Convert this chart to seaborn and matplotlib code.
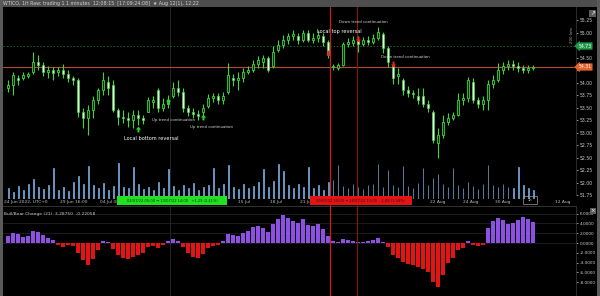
import matplotlib
matplotlib.use("Agg")
import matplotlib.pyplot as plt
import matplotlib.transforms as mtransforms
from matplotlib.patches import Rectangle
import numpy as np
import pandas as pd
import seaborn as sns

# ---------------- data ----------------
opens = [53.89, 53.95, 54.09, 54.09, 54.13, 54.21, 54.41, 54.35, 54.21, 54.25,
         54.21, 54.25, 54.17, 54.09, 54.05, 53.41, 53.29, 53.45, 53.65, 53.85,
         54.01, 53.95, 53.45, 53.31, 53.29, 53.25, 53.35, 53.29, 53.41, 53.61,
         53.85, 53.49, 53.57, 53.73, 53.89, 53.81, 53.49, 53.41, 53.37, 53.41,
         53.53, 53.69, 53.73, 53.65, 53.81, 54.09, 54.05, 54.09, 54.21, 54.25,
         54.37, 54.41, 54.49, 54.33, 54.65, 54.75, 54.85, 54.93, 54.93, 54.85,
         54.99, 54.85, 54.89, 54.93, 54.81, 54.31, 54.29, 54.35, 54.77, 54.79,
         54.85, 54.77, 54.85, 54.81, 54.89, 54.97, 54.69, 54.33, 54.13, 54.05,
         53.85, 53.79, 53.73, 53.73, 53.57, 53.41, 52.79, 52.95, 53.21, 53.29,
         53.35, 53.65, 53.69, 54.01, 53.65, 53.57, 53.65, 53.97, 54.05, 54.25,
         54.33, 54.37, 54.33, 54.29, 54.25, 54.29]
highs = [54.05, 54.21, 54.15, 54.21, 54.21, 54.61, 54.55, 54.41, 54.33, 54.31,
         54.31, 54.37, 54.25, 54.13, 54.09, 53.49, 53.55, 53.73, 53.89, 54.21,
         54.13, 54.05, 53.49, 53.45, 53.41, 53.45, 53.45, 53.35, 53.71, 53.73,
         53.89, 53.69, 53.75, 54.01, 54.05, 53.89, 53.55, 53.49, 53.45, 53.57,
         53.77, 53.79, 53.79, 53.81, 54.39, 54.17, 54.21, 54.29, 54.33, 54.45,
         54.53, 54.55, 54.53, 54.73, 54.85, 54.95, 54.99, 55.05, 54.99, 55.05,
         55.05, 54.99, 55.05, 54.99, 54.85, 54.37, 54.39, 54.81, 54.89, 54.93,
         54.93, 54.91, 54.93, 54.97, 55.11, 55.01, 54.73, 54.37, 54.29, 54.09,
         53.93, 53.85, 53.89, 53.89, 53.65, 53.45, 53.09, 53.35, 53.39, 53.41,
         53.79, 53.79, 54.11, 54.09, 53.71, 53.73, 54.05, 54.15, 54.39, 54.41,
         54.45, 54.45, 54.41, 54.35, 54.35, 54.35]
lows = [53.81, 53.75, 53.95, 54.05, 54.09, 54.17, 54.25, 54.13, 54.09, 54.05,
        54.13, 54.09, 54.01, 53.95, 53.31, 53.09, 52.95, 53.29, 53.57, 53.75,
        53.75, 53.41, 53.15, 53.19, 53.11, 53.09, 53.15, 53.17, 53.41, 53.49,
        53.41, 53.43, 53.49, 53.69, 53.73, 53.41, 53.33, 53.29, 53.25, 53.35,
        53.49, 53.61, 53.57, 53.57, 53.77, 53.93, 53.85, 54.01, 54.17, 54.21,
        54.29, 54.29, 54.21, 54.29, 54.61, 54.69, 54.77, 54.85, 54.77, 54.81,
        54.81, 54.79, 54.81, 54.73, 54.49, 54.25, 54.25, 54.33, 54.71, 54.73,
        54.61, 54.73, 54.75, 54.77, 54.85, 54.59, 54.31, 53.97, 53.97, 53.75,
        53.71, 53.69, 53.57, 53.51, 53.41, 52.79, 52.49, 52.89, 53.15, 53.25,
        53.33, 53.55, 53.61, 53.59, 53.49, 53.45, 53.45, 53.89, 54.01, 54.17,
        54.25, 54.25, 54.21, 54.19, 54.19, 54.25]
closes = [53.95, 54.15, 54.05, 54.15, 54.17, 54.41, 54.35, 54.21, 54.25, 54.19,
          54.25, 54.17, 54.09, 54.05, 53.41, 53.29, 53.45, 53.65, 53.85, 54.05,
          53.89, 53.45, 53.31, 53.29, 53.25, 53.35, 53.29, 53.25, 53.65, 53.65,
          53.49, 53.57, 53.65, 53.89, 53.81, 53.49, 53.41, 53.37, 53.33, 53.49,
          53.69, 53.73, 53.65, 53.73, 54.15, 54.05, 54.09, 54.21, 54.25, 54.37,
          54.45, 54.49, 54.25, 54.61, 54.75, 54.85, 54.93, 54.97, 54.85, 54.99,
          54.85, 54.89, 54.95, 54.81, 54.55, 54.33, 54.35, 54.77, 54.81, 54.85,
          54.77, 54.85, 54.81, 54.89, 55.01, 54.69, 54.41, 54.09, 54.17, 53.85,
          53.79, 53.77, 53.65, 53.57, 53.49, 52.85, 52.95, 53.21, 53.29, 53.35,
          53.65, 53.69, 54.05, 53.65, 53.57, 53.65, 53.97, 54.05, 54.25, 54.33,
          54.37, 54.33, 54.29, 54.25, 54.29, 54.31]
volumes = [1800, 1200, 2200, 1500, 2600, 3400, 2100, 1700, 2400, 5200,
           1600, 2000, 1400, 2800, 3900, 2500, 5600, 2300, 1900, 2700,
           1500, 2200, 6100, 2000, 1800, 5400, 2600, 1700, 2100, 1500,
           2900, 1800, 5000, 2200, 1600, 2400, 1900, 2700, 1500, 2000,
           2300, 5300, 1800, 2600, 5800, 2100, 1700, 2500, 1900, 2200,
           2800, 5100, 2000, 3000, 5900, 4800, 2300, 1800, 2600, 2100,
           5500, 1900, 2400, 1600, 2900, 3300, 5700, 2200, 1800, 2500,
           2000, 1700, 2300, 2600, 6000, 2100, 4900, 2400, 2000, 5600,
           2200, 1800, 2700, 5300, 2400, 3600, 4200, 2600, 2100, 5200,
           2300, 1900, 2800, 2200, 1700, 2500, 5800, 2400, 2000, 2600,
           2100, 1800, 5400, 2300, 1900, 1500]
bull_bear = [1.5, 2.0, 1.8, 1.2, 1.5, 2.5, 2.2, 1.6, 1.0, 0.6,
             -0.5, -0.8, -0.4, -0.6, -2.0, -3.5, -4.5, -3.2, -1.5, 0.5,
             0.3, -1.2, -2.5, -3.0, -3.2, -2.8, -2.5, -2.0, -0.8, -0.6,
             -1.0, -0.5, 0.4, 0.8, 0.5, -0.8, -2.0, -2.8, -3.0, -2.2,
             -1.0, -0.6, -0.4, 0.5, 1.8, 1.6, 1.5, 2.0, 2.5, 3.2,
             3.5, 3.0, 2.2, 3.8, 4.8, 5.8, 5.2, 4.5, 4.0, 4.8,
             3.6, 3.4, 3.8, 2.8, 1.5, 0.5, 0.3, 0.8, 0.6, 0.4,
             0.2, 0.3, 0.5, 0.6, 1.0, 0.2, -0.8, -2.5, -3.0, -3.8,
             -4.2, -4.5, -4.8, -5.2, -6.0, -8.0, -9.0, -6.5, -4.0, -3.0,
             -1.5, -1.0, 0.4, -0.4, -0.6, -0.3, 3.0, 4.5, 5.2, 4.6,
             3.8, 4.0, 4.6, 5.4, 5.0, 4.2]

price_ticks = [55.25, 55.00, 54.75, 54.50, 54.25, 54.00, 53.75, 53.50,
               53.25, 53.00, 52.75, 52.50, 52.25, 52.00, 51.75]
osc_ticks = [6, 4, 2, 0, -2, -4, -6, -8]
target_price = 54.73

signal_bars = [26, 32, 39, 64, 70, 77]
signal_prices = [53.07, 53.63, 53.31, 54.59, 54.87, 54.37]
signal_dirs = ["up", "up", "up", "down", "down", "down"]
signal_texts = ["Local bottom reversal", "Up trend continuation", "Up trend continuation",
                "Local top reversal", "Down trend continuation", "Down trend continuation"]
marked_bars = [64.4, 69.8]
crosshair_bar = 32.4

time_tick_pos = [10.4, 18.4, 46.0, 52.4, 58.4, 84.4, 91.0, 97.4, 109.4]
time_tick_labels = ["29 Jun 16:00", "04 Jul 00:00", "15 Jul", "18 Jul", "21 Jul",
                    "22 Aug", "24 Aug", "30 Aug", "12 Aug"]
green_range = (21.8, 43.8)
red_range = (60.4, 80.8)

title_text = "WTICO, 1H Raw: trading 1 1 minutes  12:08:15  [17:09:24:08]  \u2605 Aug 12(1), 12:22"
osc_title = "Bull/Bear Change (21)  3.28750  -0.22058"

# ---------------- style ----------------
sns.set_theme(style="dark", rc={"axes.facecolor": "black", "figure.facecolor": "black",
                                "axes.edgecolor": "#3a3a3a", "text.color": "#cfcfcf",
                                "xtick.color": "#cfcfcf", "ytick.color": "#cfcfcf",
                                "axes.grid": False})
plt.rcParams["font.family"] = ["DejaVu Sans"]

W, H = 600, 296
fig = plt.figure(figsize=(6, 2.96), dpi=100)
fig.patch.set_facecolor("black")


def frac(x0, y0, x1, y1):
    return [x0 / W, 1 - y1 / H, (x1 - x0) / W, (y1 - y0) / H]


o = np.array(opens); h = np.array(highs); l = np.array(lows); c = np.array(closes)
n = len(c)
idx = np.arange(n)
XLIM = (-1, 113.6)
GREEN = "#3ad83a"
VOLC = "#78aee0"

# volume (behind price)
ax_vol = fig.add_axes(frac(3, 160, 576, 199))
ax_vol.set_facecolor("none")
vol_df = pd.DataFrame({"bar": idx, "volume": volumes})
sns.barplot(data=vol_df, x="bar", y="volume", native_scale=True, color=VOLC,
            saturation=1, width=0.2, edgecolor=VOLC, linewidth=0.5, ax=ax_vol)
ax_vol.set_xlim(XLIM)
ax_vol.set_ylim(0, 6600)
ax_vol.axis("off")

# price
ax = fig.add_axes(frac(3, 7, 576, 195))
ax.set_facecolor("none")
ax.set_xlim(XLIM)
ax.set_ylim(51.75, 55.51)
ax.vlines(idx, l, h, color=GREEN, lw=0.8, zorder=3)
up = c >= o
bot = np.minimum(o, c)
bh = np.maximum(np.abs(c - o), 0.012)
ax.bar(idx[up], bh[up], bottom=bot[up], width=0.5, color="#0a2a0a", edgecolor=GREEN,
       linewidth=0.6, zorder=4)
ax.bar(idx[~up], bh[~up], bottom=bot[~up], width=0.42, color="#e6fbe6", edgecolor=GREEN,
       linewidth=0.45, zorder=4)

ax.axhline(target_price, color="#1f6b35", lw=0.6, ls=(0, (2, 2)), zorder=2)
ax.axhline(c[-1], color="#b34a33", lw=0.8, zorder=2)
ax.axvline(crosshair_bar, color="#2a2a2a", lw=0.6, zorder=1)
for b, col in zip(marked_bars, ["#c81e1e", "#7e1616"]):
    ax.axvline(b, color=col, lw=0.9, zorder=2)

ax.yaxis.tick_right()
ax.set_yticks(price_ticks)
hidden = {54.75, 54.25}
ax.set_yticklabels(["" if p in hidden else f"{p:.2f}" for p in price_ticks])
ax.tick_params(axis="y", labelsize=3.3, length=1.5, width=0.5, pad=1.5, colors="#cfcfcf")
ax.set_xticks([])
for s in ["top", "bottom", "left"]:
    ax.spines[s].set_visible(False)
ax.spines["right"].set_color("#333333")
ax.spines["right"].set_linewidth(0.6)

trans = mtransforms.blended_transform_factory(ax.transAxes, ax.transData)
ax.text(1.004, target_price, f"{target_price:.2f}", transform=trans, fontsize=3.3,
        color="white", va="center", ha="left", clip_on=False, zorder=10,
        bbox=dict(boxstyle="larrow,pad=0.25", fc="#1d9a4a", ec="none"))
ax.text(1.004, c[-1], f"{c[-1]:.2f}", transform=trans, fontsize=3.3,
        color="white", va="center", ha="left", clip_on=False, zorder=10,
        bbox=dict(boxstyle="larrow,pad=0.25", fc="#e8602c", ec="none"))
ax.text(0.993, 54.95, "200 lots", transform=trans, fontsize=2.8, color="#aaaaaa",
        rotation=90, ha="center", va="center", clip_on=False)

up_arrow = [(-0.35, -1), (0.35, -1), (0.35, 0), (0.9, 0), (0, 1), (-0.9, 0), (-0.35, 0), (-0.35, -1)]
down_arrow = [(x, -y) for x, y in up_arrow]
text_offsets = [(13, -9), (5, -19), (8, -10), (11, 21), (5, 17), (12, 7)]
text_sizes = [3.6, 2.8, 2.8, 3.6, 2.8, 2.8]
text_colors = ["white", "#d8d8d8", "#d8d8d8", "white", "#d8d8d8", "#d8d8d8"]
for b, p, d, t, off, fs, tc in zip(signal_bars, signal_prices, signal_dirs, signal_texts,
                                   text_offsets, text_sizes, text_colors):
    ax.plot(b, p, marker=up_arrow if d == "up" else down_arrow, ms=4.2,
            color="#2bd42b" if d == "up" else "#e52222", mec="none", zorder=6)
    ax.annotate(t, (b, p), xytext=off, textcoords="offset pixels", fontsize=fs,
                color=tc, ha="center", va="center", zorder=7)

# time strip
ax_s = fig.add_axes(frac(3, 195, 576, 206))
ax_s.set_facecolor("none")
ax_s.set_xlim(XLIM)
ax_s.set_ylim(0, 1)
ax_s.axis("off")
for b, col in zip(marked_bars, ["#c81e1e", "#7e1616"]):
    ax_s.axvline(b, color=col, lw=0.9, zorder=1)
ax_s.text(0.002, 0.38, "24 Jun 2022, UTC+0", transform=ax_s.transAxes, fontsize=3.2,
          color="#bdbdbd", ha="left", va="center")
for p, lab in zip(time_tick_pos, time_tick_labels):
    ax_s.text(p, 0.38, lab, fontsize=3.2, color="#bdbdbd", ha="left", va="center", clip_on=False)
ax_s.add_patch(Rectangle((green_range[0], 0.09), green_range[1] - green_range[0], 0.82,
                         fc="#22e022", ec="none", zorder=3))
ax_s.text(sum(green_range) / 2, 0.45, "04/07/22 05:00 \u2192 13/07/22 14:00   +1.29 (2.41%)",
          fontsize=2.6, color="#0b3a0b", ha="center", va="center", zorder=4)
ax_s.add_patch(Rectangle((red_range[0], 0.09), red_range[1] - red_range[0], 0.82,
                         fc="#e41414", ec="none", zorder=3))
ax_s.text(sum(red_range) / 2, 0.45, "20/07/22 10:00 \u2192 28/07/22 13:00   -1.06 (1.94%)",
          fontsize=2.6, color="#3a0a0a", ha="center", va="center", zorder=4)
ax_s.add_patch(Rectangle((103.0, 0.2), 2.8, 0.7, fc="none", ec="#9a9a9a", lw=0.5, zorder=3))
ax_s.text(104.4, 0.55, "1h", fontsize=2.6, color="#cfcfcf", ha="center", va="center", zorder=4)

# oscillator
ax_i = fig.add_axes(frac(3, 206, 576, 296))
ax_i.set_facecolor("black")
bb = np.array(bull_bear)
ind_df = pd.DataFrame({"bar": idx, "value": bb, "sign": np.where(bb >= 0, "pos", "neg")})
sns.barplot(data=ind_df, x="bar", y="value", hue="sign", native_scale=True, dodge=False,
            palette={"pos": "#8e4fe3", "neg": "#e31414"}, width=0.8, saturation=1,
            linewidth=0, legend=False, ax=ax_i)
ax_i.set_xlim(XLIM)
ax_i.set_ylim(-10.8, 7.55)
for lv in [6, 4, 2, 0]:
    ax_i.axhline(lv, color="#262626", lw=0.5, zorder=0)
ax_i.axvline(crosshair_bar, color="#2a2a2a", lw=0.6, zorder=0)
for b, col in zip(marked_bars, ["#c81e1e", "#7e1616"]):
    ax_i.axvline(b, color=col, lw=0.9, zorder=3)
ax_i.yaxis.tick_right()
ax_i.set_yticks(osc_ticks)
ax_i.set_yticklabels([f"{v:.4f}" for v in osc_ticks])
ax_i.tick_params(axis="y", labelsize=3.1, length=1.5, width=0.5, pad=1.5, colors="#cfcfcf")
ax_i.set_xticks([])
ax_i.set_xlabel("")
ax_i.set_ylabel("")
for s in ["bottom", "left"]:
    ax_i.spines[s].set_visible(False)
ax_i.spines["top"].set_color("#3a3a3a")
ax_i.spines["top"].set_linewidth(0.6)
ax_i.spines["right"].set_color("#333333")
ax_i.spines["right"].set_linewidth(0.6)
ax_i.text(0.002, 0.915, osc_title, transform=ax_i.transAxes, fontsize=3.2,
          color="#c8c8c8", ha="left", va="center")

# frame decorations
fig.patches.append(Rectangle((0, 1 - 7 / H), 1, 7 / H, transform=fig.transFigure,
                             fc="#4e4e4e", ec="none", zorder=0))
fig.patches.append(Rectangle((0, 0), 2.5 / W, 1, transform=fig.transFigure,
                             fc="#5a5a5a", ec="none", zorder=0))
fig.patches.append(Rectangle((597 / W, 0), 3 / W, 1, transform=fig.transFigure,
                             fc="#5a5a5a", ec="none", zorder=0))
fig.patches.append(Rectangle((589 / W, 1 - 17 / H), 7 / W, 7 / H, transform=fig.transFigure,
                             fc="#5c5c5c", ec="none", zorder=0))
fig.patches.append(Rectangle((590 / W, 1 - 214 / H), 6 / W, 6 / H, transform=fig.transFigure,
                             fc="#5c5c5c", ec="none", zorder=0))
fig.text(592.5 / W, 1 - 13.5 / H, "\u2197", fontsize=4, color="white", ha="center", va="center")
fig.text(593 / W, 1 - 211 / H, "\u00d7", fontsize=4, color="white", ha="center", va="center")
fig.text(3 / W, 1 - 3.6 / H, title_text, fontsize=3.4, color="#d2d2d2", ha="left", va="center")

fig.savefig("out.png", dpi=100, facecolor="black")
